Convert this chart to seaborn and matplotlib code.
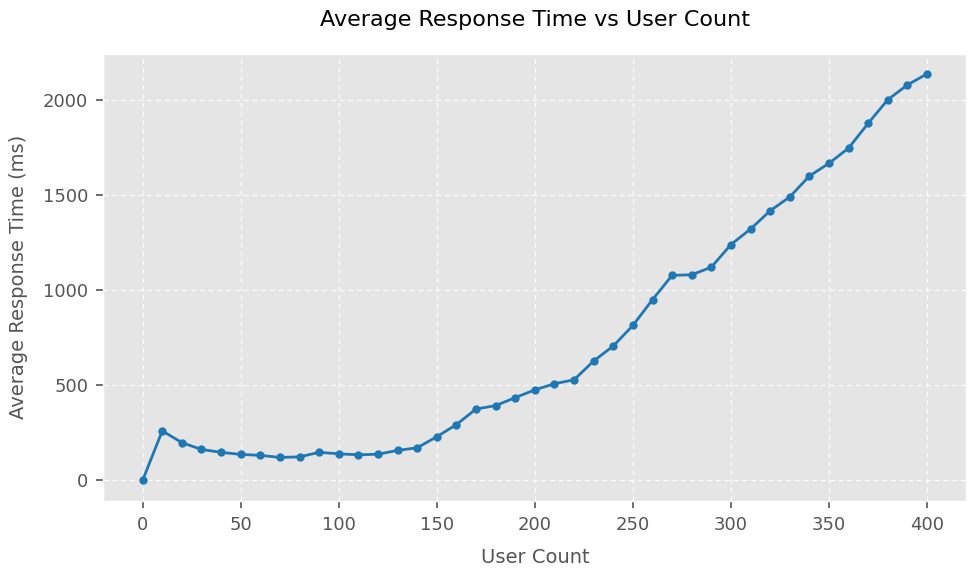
import matplotlib
matplotlib.use("Agg")
import matplotlib.pyplot as plt
import seaborn as sns
import pandas as pd

user_count = list(range(0, 410, 10))
response_ms = [0, 260, 198, 162, 147, 136, 131, 120, 123, 147, 139, 134, 137, 157, 171,
               229, 293, 375, 393, 435, 476, 508, 529, 628, 707, 815, 951, 1079, 1082,
               1122, 1241, 1323, 1419, 1492, 1602, 1669, 1749, 1880, 2004, 2082, 2140]

df = pd.DataFrame({"User Count": user_count, "Average Response Time (ms)": response_ms})

plt.style.use("ggplot")
plt.rcParams["font.family"] = ["DejaVu Sans"]

fig, ax = plt.subplots(figsize=(9.76, 5.76), dpi=100)
sns.lineplot(data=df, x="User Count", y="Average Response Time (ms)", ax=ax,
             marker="o", color="#1f77b4", linewidth=2, markersize=6,
             markeredgewidth=0)
ax.grid(True, linestyle=(0, (4, 3)), color="white", linewidth=0.9, alpha=0.85)
ax.set_title("Average Response Time vs User Count", fontsize=16, pad=20, color="black")
ax.set_xlabel("User Count", fontsize=14, labelpad=10)
ax.set_ylabel("Average Response Time (ms)", fontsize=14, labelpad=11)
ax.tick_params(labelsize=13, length=5, width=1.2, pad=6, color="#555555")
ax.set_xticks(range(0, 401, 50))
fig.subplots_adjust(left=0.106, right=0.99, top=0.907, bottom=0.131)
fig.savefig("out.png", dpi=100)
